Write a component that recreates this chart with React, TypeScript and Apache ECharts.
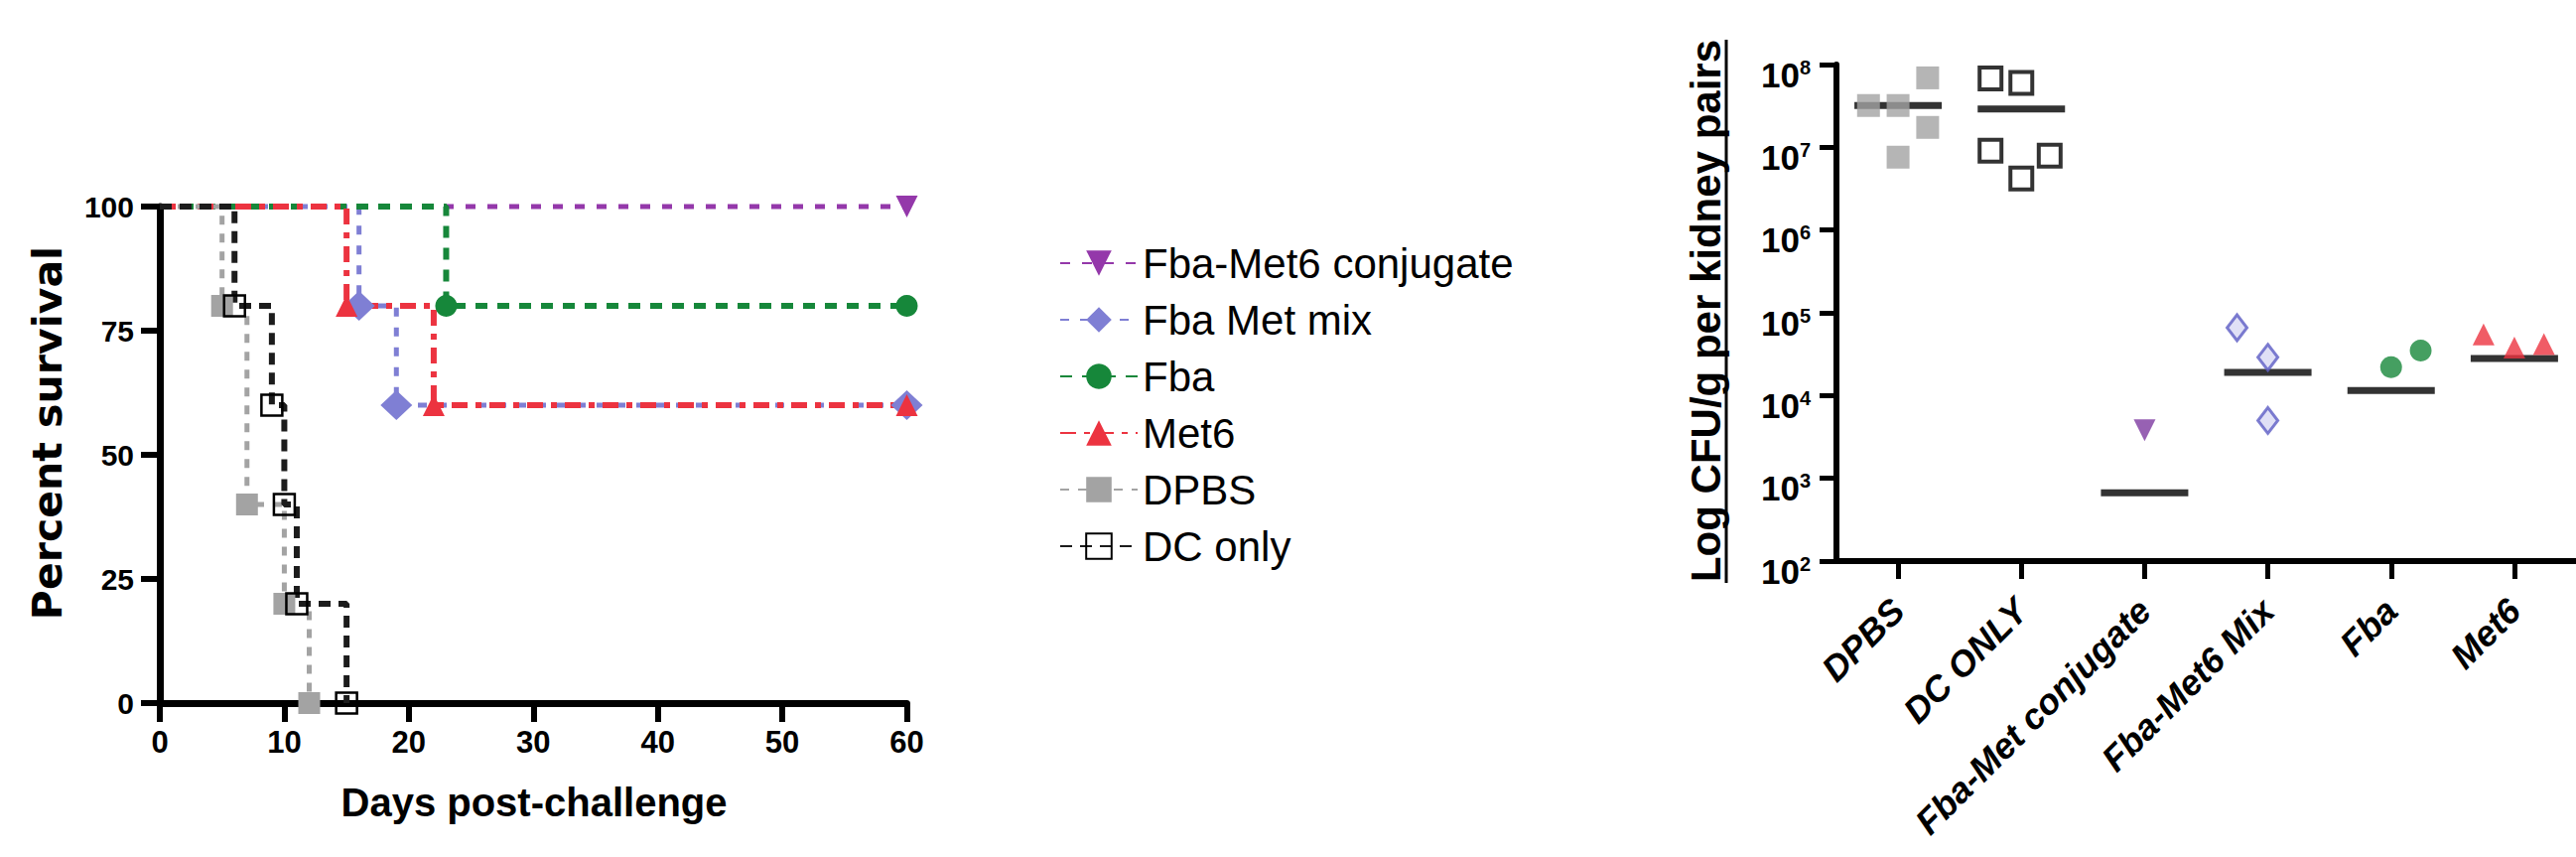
import React, { useEffect, useRef } from "react";
import * as echarts from "echarts";

// ---------- Survival data (Kaplan–Meier) ----------
const groupNames = ["Fba-Met6 conjugate", "Fba Met mix", "Fba", "Met6", "DPBS", "DC only"];
const conjDays = [0, 60];
const conjSurv = [100, 100];
const mixDays = [0, 16, 19, 60];
const mixSurv = [100, 80, 60, 60];
const fbaDays = [0, 23, 60];
const fbaSurv = [100, 80, 80];
const met6Days = [0, 15, 22, 60];
const met6Surv = [100, 80, 60, 60];
const dpbsDays = [0, 5, 7, 10, 12];
const dpbsSurv = [100, 80, 40, 20, 0];
const dcDays = [0, 6, 9, 10, 11, 15];
const dcSurv = [100, 80, 60, 40, 20, 0];

// ---------- Kidney fungal burden ----------
const cfuCategories = ["DPBS", "DC ONLY", "Fba-Met conjugate", "Fba-Met6 Mix", "Fba", "Met6"];
const cfuDpbs = [3.2e7, 3.2e7, 6.9e7, 1.74e7, 7.6e6];
const jitDpbs = [-0.24, 0, 0.24, 0.24, 0];
const cfuDc = [6.8e7, 6.0e7, 9.1e6, 4.2e6, 7.9e6];
const jitDc = [-0.25, 0, -0.25, 0, 0.23];
const cfuConj = [3.8e3];
const jitConj = [0];
const cfuMix = [6.6e4, 2.9e4, 5.0e3];
const jitMix = [-0.25, 0, 0];
const cfuFba = [2.2e4, 3.5e4];
const jitFba = [0, 0.24];
const cfuMet6 = [5.5e4, 3.8e4, 4.2e4];
const jitMet6 = [-0.25, 0, 0.24];
const cfuMedians = [3.2e7, 2.9e7, 6.7e2, 1.9e4, 1.15e4, 2.8e4];

const FONT = "Liberation Sans, Arial, Helvetica, sans-serif";
const C_PURPLE = "#9438aa";
const C_MIX = "#7f7fd4";
const C_GREEN = "#16873a";
const C_RED = "#ec3340";
const C_GRAY = "#a3a3a3";
const C_BLACK = "#1c1c1c";

function kmData(days: number[], surv: number[]) {
  return days.map((d, i) => (i === 0 ? { value: [d, surv[i]], symbol: "none" } : { value: [d, surv[i]] }));
}

function jitterData(cat: number, vals: number[], jit: number[]) {
  return vals.map((v, i) => [cat + jit[i], v]);
}

export default function App() {
  const ref = useRef<HTMLDivElement>(null);

  useEffect(() => {
    document.body.style.margin = "0";
    if (!ref.current) return;
    const chart = echarts.init(ref.current, undefined, { renderer: "svg" });

    const kmLine = (name: string, days: number[], surv: number[], color: string, symbol: string, size: any, dash: number[], itemStyle: any, lw = 5) => ({
      name,
      type: "line",
      xAxisIndex: 0,
      yAxisIndex: 0,
      step: "end",
      clip: false,
      data: kmData(days, surv),
      symbol,
      symbolSize: size,
      showAllSymbol: true,
      lineStyle: { color, width: lw, type: dash },
      itemStyle,
    });

    const scatter = (name: string, cat: number, vals: number[], jit: number[], symbol: string, size: any, itemStyle: any) => ({
      name: name + " CFU",
      type: "scatter",
      xAxisIndex: 2,
      yAxisIndex: 1,
      data: jitterData(cat, vals, jit),
      symbol,
      symbolSize: size,
      itemStyle,
      z: 4,
    });

    const option: any = {
      animation: false,
      backgroundColor: "#ffffff",
      textStyle: { fontFamily: FONT },
      grid: [
        { left: 161, top: 208, width: 752.5, height: 500 },
        { left: 1850, top: 65, width: 752.4, height: 500 },
      ],
      xAxis: [
        {
          type: "value",
          gridIndex: 0,
          min: 0,
          max: 60,
          interval: 10,
          axisLine: { show: true, onZero: false, lineStyle: { color: "#000", width: 7 } },
          axisTick: { show: true, length: 19, lineStyle: { color: "#000", width: 6 } },
          axisLabel: { fontSize: 31, fontWeight: "bold", color: "#000", margin: 24, fontFamily: FONT },
          splitLine: { show: false },
        },
        {
          type: "category",
          gridIndex: 1,
          data: cfuCategories,
          axisLine: { show: true, onZero: false, lineStyle: { color: "#000", width: 6 } },
          axisTick: { show: true, alignWithLabel: true, length: 18, lineStyle: { color: "#000", width: 5 } },
          axisLabel: {
            interval: 0,
            rotate: 45,
            fontSize: 36,
            fontWeight: "bold",
            fontStyle: "italic",
            color: "#000",
            margin: 44,
            fontFamily: FONT,
          },
          splitLine: { show: false },
        },
        {
          type: "value",
          gridIndex: 1,
          min: -0.5,
          max: 5.5,
          show: false,
          axisLine: { onZero: false },
          splitLine: { show: false },
        },
      ],
      yAxis: [
        {
          type: "value",
          gridIndex: 0,
          min: 0,
          max: 100,
          interval: 25,
          axisLine: { show: true, onZero: false, lineStyle: { color: "#000", width: 7 } },
          axisTick: { show: true, length: 19, lineStyle: { color: "#000", width: 6 } },
          axisLabel: { fontSize: 30, fontWeight: "bold", color: "#000", margin: 26, fontFamily: FONT },
          splitLine: { show: false },
        },
        {
          type: "log",
          gridIndex: 1,
          logBase: 10,
          min: 100,
          max: 1e8,
          interval: 1,
          axisLine: { show: true, onZero: false, lineStyle: { color: "#000", width: 6 } },
          axisTick: { show: true, length: 17, lineStyle: { color: "#000", width: 5 } },
          axisLabel: {
            margin: 26,
            color: "#000",
            fontSize: 35,
            fontWeight: "bold",
            fontFamily: FONT,
            padding: [20, 0, 0, 0],
            formatter: (v: number) => `{b|10}{s|${Math.round(Math.log10(v))}}`,
            rich: {
              b: { fontSize: 35, fontWeight: "bold", color: "#000", fontFamily: FONT },
              s: { fontSize: 20, fontWeight: "bold", color: "#000", fontFamily: FONT, verticalAlign: "top" },
            },
          },
          splitLine: { show: false },
        },
      ],
      legend: {
        orient: "vertical",
        left: 1067,
        top: 244,
        padding: 0,
        itemWidth: 78,
        itemHeight: 32,
        itemGap: 15,
        data: groupNames,
        textStyle: { fontSize: 42, color: "#000", fontFamily: FONT },
      },
      graphic: [
        {
          type: "text",
          x: 48,
          y: 436,
          rotation: Math.PI / 2,
          style: {
            text: "Percent survival",
            font: "bold 41px DejaVu Sans, sans-serif",
            fill: "#000",
            align: "center",
            verticalAlign: "middle",
          },
        },
        {
          type: "text",
          x: 538,
          y: 808,
          style: {
            text: "Days post-challenge",
            font: `bold 40px ${FONT}`,
            fill: "#000",
            align: "center",
            verticalAlign: "middle",
          },
        },
        {
          type: "text",
          x: 1718,
          y: 313,
          rotation: Math.PI / 2,
          style: {
            text: "Log CFU/g per kidney pairs",
            font: `bold 42px ${FONT}`,
            fill: "#000",
            align: "center",
            verticalAlign: "middle",
          },
        },
        {
          type: "line",
          shape: { x1: 1739, y1: 40, x2: 1739, y2: 587 },
          style: { stroke: "#000", lineWidth: 3 },
        },
      ],
      series: [
        kmLine(groupNames[0], conjDays, conjSurv, C_PURPLE, "triangle", 22, [10, 12], { color: C_PURPLE }, 5),
        kmLine(groupNames[1], mixDays, mixSurv, C_MIX, "diamond", [32, 30], [9, 11], { color: C_MIX }, 5),
        kmLine(groupNames[2], fbaDays, fbaSurv, C_GREEN, "circle", 22, [12, 10], { color: C_GREEN }, 6),
        kmLine(groupNames[3], met6Days, met6Surv, C_RED, "triangle", 22, [16, 8, 6, 8], { color: C_RED }, 6),
        kmLine(groupNames[4], dpbsDays, dpbsSurv, C_GRAY, "rect", 22, [9, 9], { color: C_GRAY }, 5),
        kmLine(groupNames[5], dcDays, dcSurv, C_BLACK, "rect", 21, [12, 8], { color: "rgba(255,255,255,0)", borderColor: "#000", borderWidth: 2.5 }, 6),
        {
          name: "Median",
          type: "scatter",
          xAxisIndex: 1,
          yAxisIndex: 1,
          data: cfuMedians.map((m, i) => [i, m]),
          symbol: "rect",
          symbolSize: [88, 7],
          itemStyle: { color: "#000" },
          z: 3,
        },
        scatter("DPBS", 0, cfuDpbs, jitDpbs, "rect", 23, { color: C_GRAY }),
        scatter("DC ONLY", 1, cfuDc, jitDc, "rect", 22, { color: "rgba(255,255,255,0)", borderColor: "#000", borderWidth: 4 }),
        scatter("Fba-Met conjugate", 2, cfuConj, jitConj, "triangle", 22, { color: "#7d3aa0" }),
        scatter("Fba-Met6 Mix", 3, cfuMix, jitMix, "diamond", [20, 26], { color: "#d8d8f4", borderColor: "#5c5cc4", borderWidth: 3 }),
        scatter("Fba", 4, cfuFba, jitFba, "circle", 22, { color: C_GREEN }),
        scatter("Met6", 5, cfuMet6, jitMet6, "triangle", 22, { color: C_RED }),
      ],
    };

    // triangle-down for conjugate series
    option.series[0].symbolRotate = 180;
    option.series[9].symbolRotate = 180;

    chart.setOption(option);
    return () => chart.dispose();
  }, []);

  return <div ref={ref} style={{ width: 2595, height: 863, overflow: "hidden", background: "#fff" }} />;
}
